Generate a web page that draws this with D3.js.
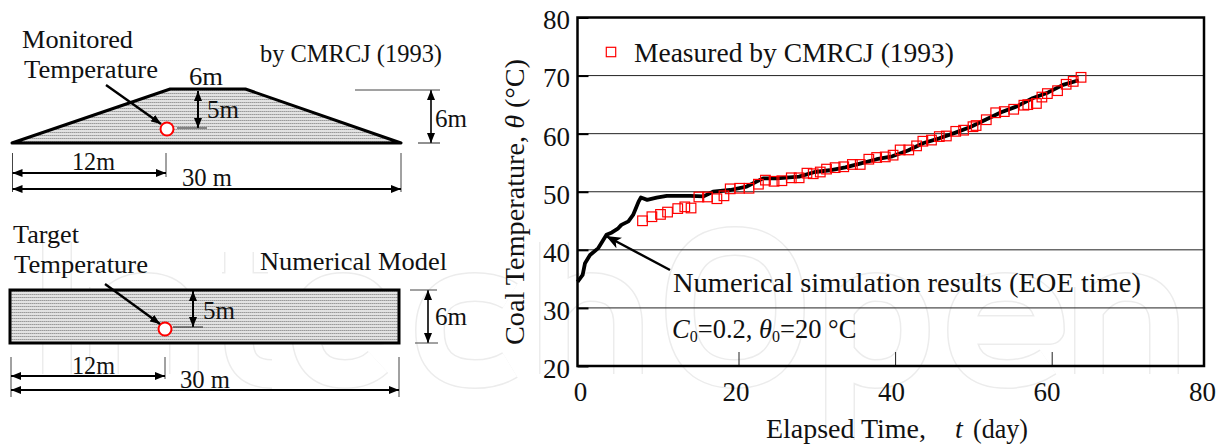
<!DOCTYPE html>
<html><head><meta charset="utf-8">
<script src="https://cdn.jsdelivr.net/npm/d3@7"></script>
<style>html,body{margin:0;background:#fff}svg{display:block}text{font-family:"Liberation Serif",serif;fill:#111}</style>
</head><body><svg id="c" width="1225" height="446"></svg>
<script>
const simT=[0,0.66,0.96,1.6,2.66,3.7,4.4,5.2,5.6,6.5,7.1,7.8,8.1,8.9,10.1,11.4,14.4,16.1,17.3,19.5,21.6,23.7,25.4,28.3,30.3,32.2,34.2,36.2,38.2,40.2,42.2,44.2,46.2,48.1,50.1,52.1,54.1,56.1,58.1,60.1,62,64];
const simV=[34.5,35.7,37.7,39.1,40.3,42.6,43,43.7,44.3,44.9,46,48.3,49,48.6,49,49.3,49.3,49.2,50,50.3,50.9,52.3,52.3,52.6,53.4,53.7,54.2,54.9,55.6,56.1,57.1,58.4,59.2,60.1,61.1,62.4,63.7,64.7,66.1,67.1,68.4,69.2];
const measT=[8.3,9.5,10.6,11.5,12.8,13.7,14.5,15.5,16.6,17.8,18.7,19.5,20.7,21.9,23.1,24,25.1,26.1,27.3,28.3,29.3,30.1,31,31.8,32.9,34,35.1,36.1,37.2,38.2,39.3,40.3,41.2,42.3,43.3,44.1,45.2,46.2,47.1,48.3,49.3,50.5,50.9,52.2,53.4,54.5,55.7,57,57.5,58.6,59.3,60,61.3,62.4,63.3,64.3];
const measV=[45,45.7,46.1,46.5,47.1,47.4,47.2,49.1,49.1,48.8,49.3,50.5,50.6,50.6,51.3,52,51.8,51.9,52.4,52.4,53.2,53.1,53.4,53.9,54.15,54.3,54.7,54.7,55.6,55.9,56,56.3,57.2,57.2,57.9,58.7,58.9,59.5,59.6,60.4,60.6,61.2,61.4,62.4,63.6,63.8,64.2,64.9,65,65.2,66.3,66.9,67.4,68.5,69,69.7];
const xTicks=[0,20,40,60,80], xInnerTicks=[20,40,60], yTicks=[20,30,40,50,60,70,80];
const svg=d3.select("#c");
const defs=svg.append("defs");
const pat=defs.append("pattern").attr("id","h").attr("patternUnits","userSpaceOnUse").attr("width",2).attr("height",3);
pat.append("rect").attr("width",2).attr("height",3).attr("fill","#e2e2e2");
pat.append("rect").attr("width",1).attr("height",1).attr("fill","#9a9a9a");
pat.append("rect").attr("x",1).attr("width",1).attr("height",1).attr("fill","#b8b8b8");
const mk=defs.append("marker").attr("id","a").attr("viewBox","0 0 10 8").attr("refX",10).attr("refY",4).attr("markerWidth",10).attr("markerHeight",8).attr("markerUnits","userSpaceOnUse").attr("orient","auto-start-reverse");
mk.append("path").attr("d","M0,0L10,4L0,8Z").attr("fill","#000");
const mk2=defs.append("marker").attr("id","b").attr("viewBox","0 0 15 12").attr("refX",15).attr("refY",6).attr("markerWidth",15).attr("markerHeight",12).attr("markerUnits","userSpaceOnUse").attr("orient","auto");
mk2.append("path").attr("d","M0,0L15,6L0,12L4,6Z").attr("fill","#000");

// watermark outline letters
const wm=["M57,242V374","M104,374V287M104,310Q120,287 145,287Q184,287 184,325V374","M239,252V340Q239,374 272,374M222,287H268",
"M306,330H380Q380,287 343,287Q306,287 306,330Q306,374 345,374Q365,374 378,362","M510,296Q495,287 475,287Q430,287 430,330Q430,374 475,374Q495,374 510,365",
"M554,242V374M554,310Q570,287 590,287Q628,287 628,325V374","M735,241Q680,241 680,308Q680,374 735,374Q790,374 790,308Q790,241 735,241Z",
"M840,287V440M840,310Q855,287 875,287Q915,287 915,330Q915,374 875,374Q855,374 840,352","M962,330H1050Q1050,287 1005,287Q962,287 962,330Q962,374 1007,374Q1030,374 1048,362",
"M1089,374V287M1089,310Q1105,287 1125,287Q1164,287 1164,325V374"].join("");
svg.append("path").attr("d",wm).attr("fill","none").attr("stroke","#ececec").attr("stroke-width",30).attr("stroke-linejoin","round");
svg.append("path").attr("d",wm).attr("fill","none").attr("stroke","#fff").attr("stroke-width",27).attr("stroke-linejoin","round");

const x=d3.scaleLinear().domain([0,80]).range([577.5,1204]);
const xLab=d3.scaleLinear().domain([0,80]).range([580,1202]);
const xTick=d3.scaleLinear().domain([20,60]).range([738.5,1051.7]);
const y=d3.scaleLinear().domain([20,80]).range([366,17.5]);
const g=svg.append("g");
g.selectAll(".gl").data(yTicks.slice(1,-1)).join("line").attr("x1",x(0)).attr("x2",x(80)).attr("y1",y).attr("y2",y).attr("stroke","#222").attr("stroke-width",1);
const ax=g.append("g").attr("transform",`translate(0,${y(20)})`).call(d3.axisBottom(xLab).tickValues(xTicks).tickSize(0).tickFormat(d3.format("d")));
ax.select(".domain").remove();ax.selectAll("text").attr("font-size",27).attr("y",35).attr("dy",0);
const ax2=g.append("g").attr("transform",`translate(0,${y(20)})`).call(d3.axisBottom(xTick).tickValues(xInnerTicks).tickSize(-14).tickFormat(""));
ax2.select(".domain").remove();ax2.selectAll("line").attr("stroke","#222");
const ay=g.append("g").attr("transform",`translate(${x(0)},0)`).call(d3.axisLeft(y).tickValues(yTicks).tickSize(-11).tickPadding(7.5).tickFormat(d3.format("d")));
ay.select(".domain").remove();ay.selectAll("text").attr("font-size",27).attr("dy","0.42em");ay.selectAll("line").attr("stroke-width",2);
g.append("rect").attr("x",x(0)).attr("y",y(80)).attr("width",x(80)-x(0)).attr("height",y(20)-y(80)).attr("fill","none").attr("stroke","#000").attr("stroke-width",2.5);
g.append("path").datum(d3.zip(simT,simV)).attr("fill","none").attr("stroke","#000").attr("stroke-width",3.8).attr("stroke-linejoin","round").attr("d",d3.line().x(d=>x(d[0])).y(d=>y(d[1])));
g.selectAll(".m").data(d3.zip(measT,measV)).join("rect").attr("x",d=>x(d[0])-4.8).attr("y",d=>y(d[1])-4.8).attr("width",9.6).attr("height",9.6).attr("fill","none").attr("stroke","#f00").attr("stroke-width",1.2);
g.append("rect").attr("x",606.3).attr("y",47.3).attr("width",9.4).attr("height",9.4).attr("fill","none").attr("stroke","#f00").attr("stroke-width",1.2);
const T=(s,px,py,w,fs=26)=>svg.append("text").attr("x",px).attr("y",py).attr("font-size",fs).attr("textLength",w).attr("lengthAdjust","spacingAndGlyphs").text(s);
T("Measured by CMRCJ (1993)",634,62,320,28);
T("Numerical simulation results (EOE time)",673,292,468,28);
g.append("line").attr("x1",670).attr("y1",270).attr("x2",606).attr("y2",236).attr("stroke","#000").attr("stroke-width",2.4).attr("marker-end","url(#b)");
const c0=svg.append("text").attr("x",672).attr("y",338).attr("font-size",26.5);
c0.append("tspan").attr("font-style","italic").text("C");c0.append("tspan").attr("font-size",16).attr("dy",4).text("0");c0.append("tspan").attr("dy",-4).text("=0.2, ");c0.append("tspan").attr("font-style","italic").text("θ");c0.append("tspan").attr("font-size",16).attr("dy",4).text("0");c0.append("tspan").attr("dy",-4).text("=20 °C");
T("Elapsed Time,",766,438,160,28);
svg.append("text").attr("x",955).attr("y",438).attr("font-size",28).attr("font-style","italic").text("t");
T("(day)",973,438,55,28);
const yl=svg.append("text").attr("transform","translate(524,345) rotate(-90)").attr("font-size",28).attr("textLength",286).attr("lengthAdjust","spacingAndGlyphs");
yl.append("tspan").text("Coal Temperature, ");yl.append("tspan").attr("font-style","italic").text("θ");yl.append("tspan").text(" (°C)");

// diagrams: geometry in metres
const mx=d3.scaleLinear().domain([0,30]).range([12,401]);
const trapY=d3.scaleLinear().domain([0,6]).range([143,89]);
const pl=d3.line().x(d=>mx(d[0])).y(d=>trapY(d[1]));
const trapM=[[0,0],[12.2,6],[18,6],[30,0]];
const dim=(x1,y1,x2,y2,sw=1.8)=>svg.append("line").attr("x1",x1).attr("y1",y1).attr("x2",x2).attr("y2",y2).attr("stroke","#000").attr("stroke-width",sw).attr("marker-end","url(#a)").attr("marker-start","url(#a)");
const ln=(x1,y1,x2,y2,c="#444",sw=1)=>svg.append("line").attr("x1",x1).attr("y1",y1).attr("x2",x2).attr("y2",y2).attr("stroke",c).attr("stroke-width",sw);
const arrow=(x1,y1,x2,y2)=>svg.append("line").attr("x1",x1).attr("y1",y1).attr("x2",x2).attr("y2",y2).attr("stroke","#000").attr("stroke-width",2.4).attr("marker-end","url(#a)");
const circ=(cx,cy)=>svg.append("circle").attr("cx",cx).attr("cy",cy).attr("r",6.5).attr("fill","#fff").attr("stroke","#f00").attr("stroke-width",2);
svg.append("path").datum(trapM).attr("d",d=>pl(d)+"Z").attr("fill","url(#h)").attr("stroke","#000").attr("stroke-width",3).attr("stroke-linejoin","round");
circ(167,129);arrow(106,85,161,124);
dim(198,91,198,128,2);ln(177,128,207,128,"#222");
dim(431,90,431,143,1.6);ln(355,90,440,90);ln(418,143,440,143,"#222");
ln(12.5,153,12.5,192);ln(401,153,401,192);ln(166,153,166,177);
dim(12.5,173,166,173);dim(12.5,189,401,189);
T("Monitored",22,48,111);T("Temperature",24,78,134);T("by CMRCJ (1993)",260,62,182);T("6m",189,85,34);T("5m",207,118,32);T("6m",435,127,32);T("12m",72,170,43);T("30 m",182,186,50);
// model
svg.append("rect").attr("x",10).attr("y",290).attr("width",389).attr("height",53).attr("fill","url(#h)").attr("stroke","#000").attr("stroke-width",3);
circ(165,329);arrow(105,284,160,324);
dim(193,291,193,327,2);ln(173,327,203,327,"#222");
dim(428,290,428,343,1.6);ln(410,290,437,290);ln(415,343,438,343);
ln(11,357,11,397);ln(399,357,399,397);ln(165,357,165,379);
dim(11,376,165,376);dim(11,390,399,390);
T("Target",13,243,66);T("Temperature",14,273,134);T("Numerical Model",260,270,187);T("5m",203,319,32);T("6m",435,325,32);T("12m",72,374,43);T("30 m",180,388,50);
</script></body></html>
